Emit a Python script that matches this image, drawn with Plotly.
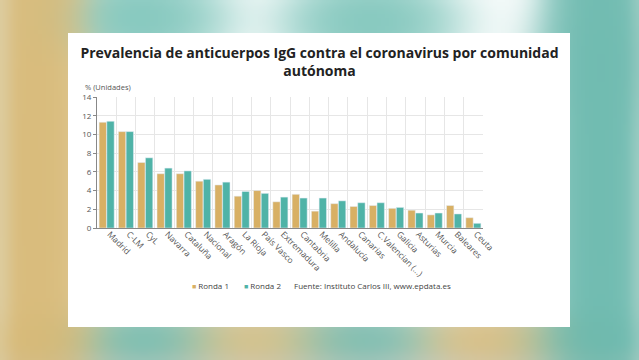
import base64, struct, zlib
import numpy as np
import plotly.graph_objects as go

# ---------------- data ----------------
categories = ["Madrid", "C-LM", "CyL", "Navarra", "Cataluña", "Nacional", "Aragón",
              "La Rioja", "País Vasco", "Extremadura", "Cantabria", "Melilla",
              "Andalucía", "Canarias", "C.Valencian (...)", "Galicia", "Asturias",
              "Murcia", "Baleares", "Ceuta"]
ronda1 = [11.3, 10.3, 7.0, 5.8, 5.8, 5.0, 4.6, 3.4, 4.0, 2.8, 3.6, 1.8,
          2.6, 2.3, 2.4, 2.1, 1.9, 1.4, 2.4, 1.1]
ronda2 = [11.4, 10.3, 7.5, 6.4, 6.1, 5.2, 4.9, 3.9, 3.7, 3.3, 3.2, 3.2,
          2.9, 2.7, 2.7, 2.2, 1.6, 1.6, 1.5, 0.5]
y_ticks = [0, 2, 4, 6, 8, 10, 12, 14]
series_names = ["Ronda 1", "Ronda 2"]
title_text = "Prevalencia de anticuerpos IgG contra el coronavirus por comunidad<br>autónoma"
y_title = "% (Unidades)"
source_text = "Fuente: Instituto Carlos III, www.epdata.es"

W, H = 639, 360
GOLD = "#d8b064"
TEAL = "#4fb3a7"

# ---------------- blurred decorative background ----------------
def make_bg():
    gw, gh = 160, 90
    xs = (np.arange(gw) + 0.5) / gw * W
    ys = (np.arange(gh) + 0.5) / gh * H
    X, Y = np.meshgrid(xs, ys)
    blobs = [  # cx, cy, sx, sy, rgb, weight
        (35, 180, 28, 400, (214, 182, 112), 6.0),
        (0, 180, 8, 400, (222, 214, 180), 3.0),
        (140, 18, 45, 25, (110, 190, 178), 2.5),
        (370, 22, 45, 25, (110, 190, 178), 2.5),
        (610, 60, 40, 40, (110, 185, 175), 2.0),
        (600, 200, 25, 400, (100, 182, 170), 6.0),
        (639, 200, 6, 400, (175, 210, 200), 2.0),
        (40, 345, 40, 20, (214, 182, 112), 3.0),
        (145, 345, 45, 20, (100, 180, 168), 3.0),
        (255, 345, 45, 20, (215, 185, 120), 3.0),
        (360, 345, 45, 20, (105, 180, 168), 3.0),
        (490, 345, 45, 20, (215, 182, 115), 3.0),
        (585, 345, 40, 20, (100, 180, 168), 3.0),
        (320, 360, 400, 8, (200, 200, 190), 1.0),
    ]
    acc = np.zeros((gh, gw, 3))
    wsum = np.full((gh, gw), 0.6)
    acc += 0.6 * np.array([252, 254, 254])[None, None, :]
    for cx, cy, sx, sy, rgb, wt in blobs:
        w = wt * np.exp(-((X - cx) ** 2) / (2 * sx ** 2) - ((Y - cy) ** 2) / (2 * sy ** 2))
        acc += w[..., None] * np.array(rgb)[None, None, :]
        wsum += w
    img = np.clip(acc / wsum[..., None], 0, 255).astype(np.uint8)
    raw = b"".join(b"\x00" + img[r].tobytes() for r in range(gh))
    def chunk(t, d):
        c = struct.pack(">I", len(d)) + t + d
        return c + struct.pack(">I", zlib.crc32(t + d) & 0xffffffff)
    png = b"\x89PNG\r\n\x1a\n" + chunk(b"IHDR", struct.pack(">IIBBBBB", gw, gh, 8, 2, 0, 0, 0)) \
        + chunk(b"IDAT", zlib.compress(raw, 9)) + chunk(b"IEND", b"")
    return "data:image/png;base64," + base64.b64encode(png).decode()

# ---------------- layout geometry ----------------
ML, MR, MT, MB = 97, 156, 97, 132
pw, ph = W - ML - MR, H - MT - MB
def px_x(p):
    return (p - ML) / pw
def px_y(p):
    return (H - MB - p) / ph

fig = go.Figure()
colors = [GOLD, TEAL]
for name, vals, col in zip(series_names, [ronda1, ronda2], colors):
    fig.add_trace(go.Bar(name=name, x=categories, y=vals, marker_color=col, showlegend=False))

FONT = "Open Sans"
legend_x = [190, 242]
annotations = [
    dict(text=y_title, xref="paper", yref="paper", x=px_x(83), y=px_y(87),
         xanchor="left", yanchor="middle", showarrow=False,
         font=dict(family=FONT, size=7.5, color="#555555")),
    dict(text=source_text, xref="paper", yref="paper", x=px_x(292), y=px_y(285),
         xanchor="left", yanchor="middle", showarrow=False,
         font=dict(family=FONT, size=8, color="#444444")),
]
for name, col, lx in zip(series_names, colors, legend_x):
    annotations.append(dict(
        text=f"<span style='color:{col};font-size:7px'>■</span> {name}",
        xref="paper", yref="paper", x=px_x(lx), y=px_y(285),
        xanchor="left", yanchor="middle", showarrow=False,
        font=dict(family=FONT, size=8, color="#444444")))

fig.update_layout(
    width=W, height=H,
    margin=dict(l=ML, r=MR, t=MT, b=MB, pad=0),
    paper_bgcolor="white", plot_bgcolor="white",
    font=dict(family=FONT, size=8, color="#555555"),
    barmode="group", bargap=0.2, bargroupgap=0.05,
    title=dict(text="<b>" + title_text + "</b>", x=0.5, xanchor="center",
               y=1 - 58 / H, yanchor="middle",
               font=dict(family=FONT, size=14, color="#222222")),
    showlegend=False,
    xaxis=dict(type="category", tickson="boundaries", showgrid=True, gridcolor="#e6e6e6",
               gridwidth=1, tickangle=45, showline=True, linecolor="#888888", linewidth=1,
               ticks="", ticklabelshift=3, ticklabelstandoff=-3,
               tickfont=dict(size=8.5, color="#555555"), fixedrange=True),
    yaxis=dict(range=[0, 14], tickvals=y_ticks, showgrid=True, gridcolor="#e6e6e6",
               showline=True, linecolor="#888888", linewidth=1, ticks="outside",
               ticklen=3, tickcolor="#888888", zeroline=False,
               tickfont=dict(size=8, color="#555555")),
    images=[dict(source=make_bg(), xref="paper", yref="paper",
                 x=px_x(0), y=px_y(0), sizex=W / pw, sizey=H / ph,
                 xanchor="left", yanchor="top", sizing="stretch", layer="below")],
    shapes=[dict(type="rect", xref="paper", yref="paper",
                 x0=px_x(68), x1=px_x(570), y0=px_y(327), y1=px_y(33),
                 fillcolor="white", line=dict(width=0), layer="below")],
    annotations=annotations,
)

fig.write_html("out.html", include_plotlyjs=True, config={"displayModeBar": False},
               post_script="document.body.style.margin='0';")
